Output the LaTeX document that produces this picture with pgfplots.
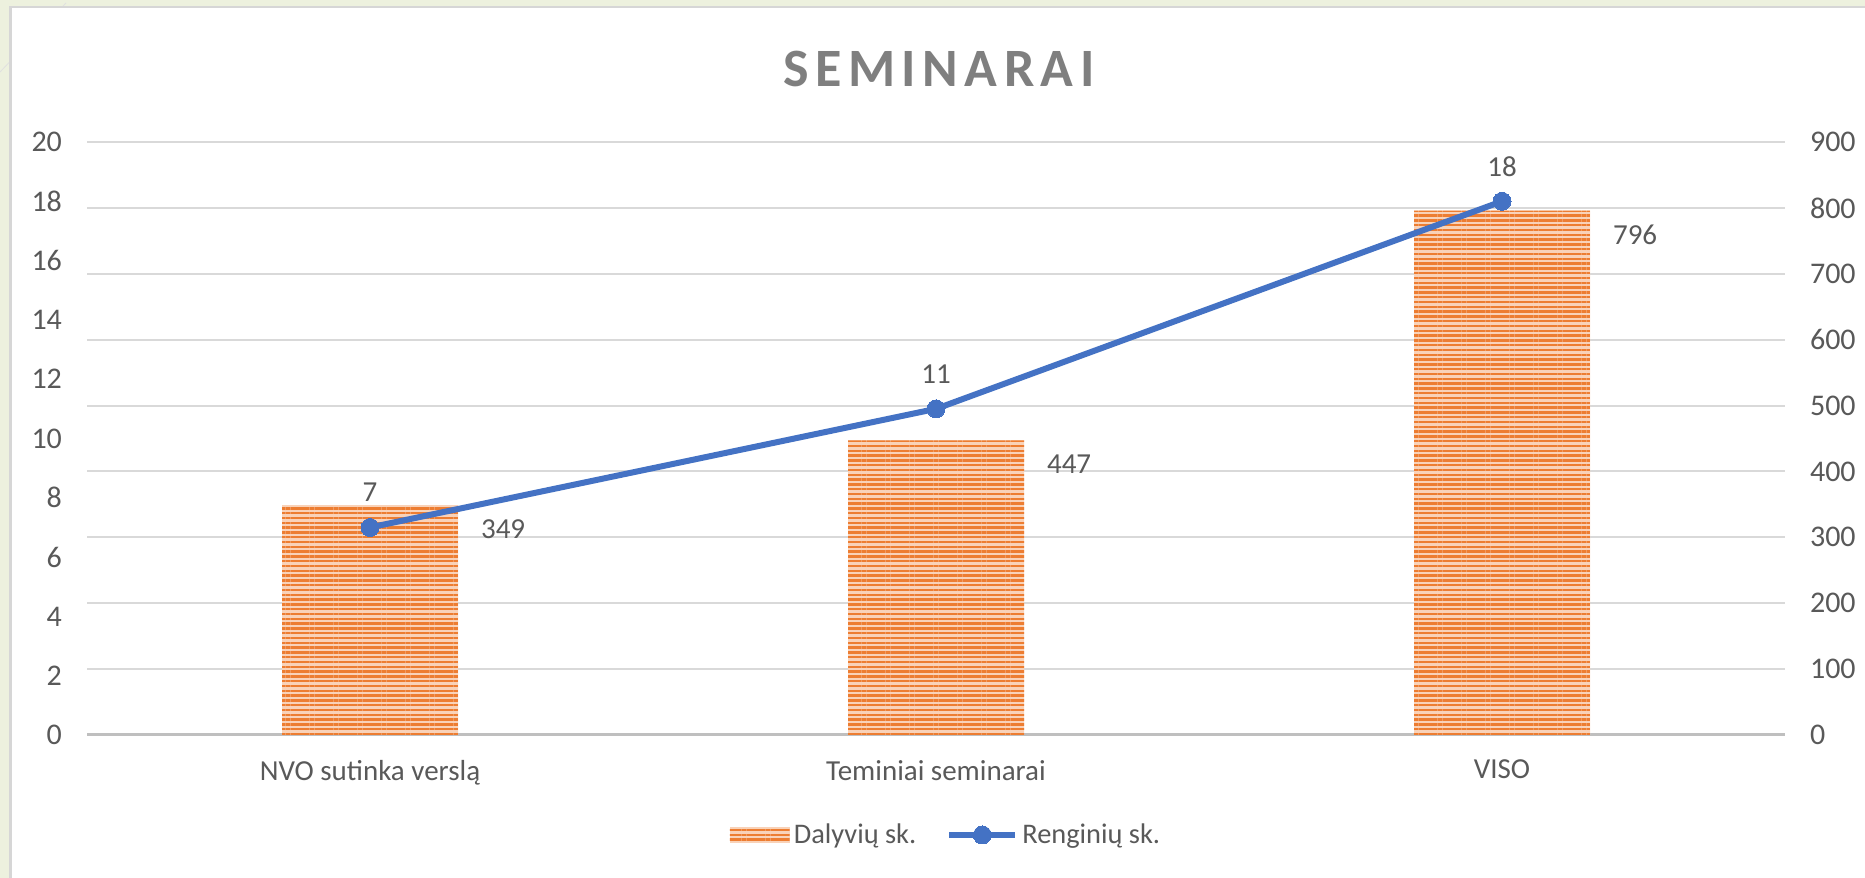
\documentclass[border=0pt]{standalone}
\usepackage{pgfplots}
\pgfplotsset{compat=1.18}
\usepackage{fontspec}
\setmainfont{Carlito}
\newfontfamily\titlefont[LetterSpace=12]{Carlito}
\usetikzlibrary{patterns.meta}
\definecolor{barO}{HTML}{ED7D31}
\definecolor{barL}{HTML}{F9D2B8}
\definecolor{lineB}{HTML}{4472C4}
\definecolor{txt}{HTML}{595959}
\definecolor{titlec}{HTML}{7F7F7F}
\definecolor{gridc}{HTML}{D9D9D9}
\definecolor{axc}{HTML}{BFBFBF}
\definecolor{bg}{HTML}{EDF1DE}
\pgfplotsset{/pgf/number format/assume math mode=true}
\pgfplotsset{mylinelegend/.style={legend image code/.code={\draw[mark repeat=2,mark phase=2,##1] plot coordinates {(0pt,0pt) (16.5pt,0pt) (33pt,0pt)};}}}
\begin{document}
\begin{tikzpicture}
\fill[bg] (0,0) rectangle (932.5pt,439pt);
\path[use as bounding box] (0,0) rectangle (932.5pt,439pt);
\draw[black!12, line width=0.4pt] (0,403pt) -- (33pt,437.5pt);
\draw[fill=white, draw=black!16, line width=1.3pt] (5.25pt,-20pt) rectangle (960pt,435.5pt);
\node[font=\titlefont\bfseries\fontsize{27}{32}\selectfont, text=titlec] at (469.5pt,404.5pt) {SEMINARAI};

\begin{axis}[at={(43.5pt,71.5pt)}, anchor=south west, scale only axis,
  width=849pt, height=296.5pt,
  xmin=-0.5, xmax=2.5, ymin=0, ymax=900,
  ytick={0,100,...,900},
  xtick={0,1,2},
  xticklabels={NVO sutinka verslą, Teminiai seminarai, VISO},
  axis y line*=right, axis x line*=bottom,
  y axis line style={draw=none},
  x axis line style={draw=axc, line width=1.5pt},
  major tick length=0pt,
  ymajorgrids, grid style={gridc, line width=1pt},
  yticklabel style={anchor=west, xshift=9pt, font=\fontsize{15}{17}\selectfont, text=txt},
  xticklabel style={anchor=north, yshift=-9pt, font=\fontsize{14.5}{17}\selectfont, text=txt},
  ybar, bar width=88pt,
  clip=false,
]
\addplot[draw=none, fill=barL,
  postaction={pattern={Lines[angle=0,distance=2.4pt,line width=1.2pt]},pattern color=barO},
  nodes near coords,
  nodes near coords style={anchor=west, xshift=52pt, yshift=-12pt, font=\fontsize{14.5}{17}\selectfont, text=txt}]
  coordinates {(0,349) (1,447) (2,796)};
\end{axis}

\begin{axis}[at={(43.5pt,71.5pt)}, anchor=south west, scale only axis,
  width=849pt, height=296.5pt,
  xmin=-0.5, xmax=2.5, ymin=0, ymax=20,
  ytick={0,2,...,20},
  axis y line*=left, axis x line=none,
  y axis line style={draw=none},
  major tick length=0pt,
  yticklabel style={anchor=east, xshift=-9pt, font=\fontsize{15}{17}\selectfont, text=txt},
  clip=false,
  legend style={at={(0.5065,-0.1686)}, anchor=center, draw=none, fill=none,
    font=\fontsize{14.2}{17}\selectfont, text=txt, legend columns=-1,
    /tikz/every even column/.append style={column sep=13pt},
    /tikz/every odd column/.append style={column sep=0pt}},
]
\addlegendimage{legend image code/.code={
  \fill[barL, draw=none] (0pt,-4pt) rectangle (30pt,4pt);
  \path[draw=none, pattern={Lines[angle=0,distance=2.4pt,line width=1.2pt]},pattern color=barO] (0pt,-4pt) rectangle (30pt,4pt);}}
\addlegendentry{Dalyvių sk.}
\addplot[lineB, line width=3pt, mark=*, mark size=4.5pt,
  mark options={fill=lineB, draw=lineB, line width=0pt},
  mylinelegend,
  nodes near coords,
  nodes near coords style={anchor=center, yshift=17.5pt, font=\fontsize{14.5}{17}\selectfont, text=txt}]
  coordinates {(0,7) (1,11) (2,18)};
\addlegendentry{Renginių sk.}
\end{axis}
\end{tikzpicture}
\end{document}
